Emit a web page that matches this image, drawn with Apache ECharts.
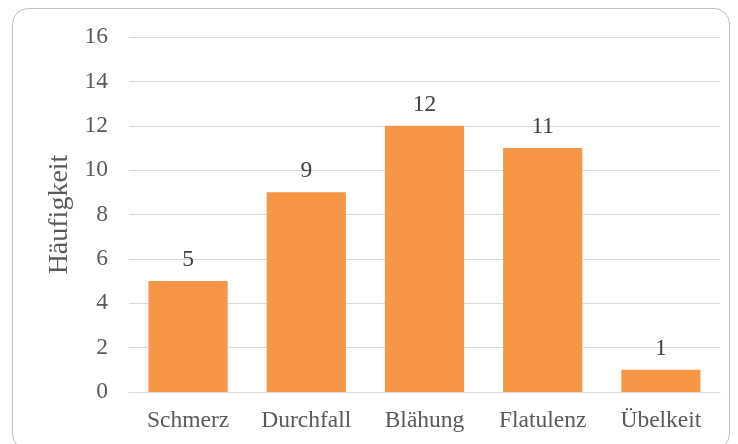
<!DOCTYPE html>
<html>
<head>
<meta charset="utf-8">
<script src="https://cdn.jsdelivr.net/npm/echarts@6/dist/echarts.min.js"></script>
<style>
  html, body { margin: 0; padding: 0; background: #fff; }
  #frame {
    position: absolute; left: 12px; top: 8px; width: 718px; height: 442px;
    border: 1px solid #bfbfbf; border-radius: 16px; box-sizing: border-box;
  }
  #chart { position: absolute; left: 0; top: 0; width: 738px; height: 444px; }
</style>
</head>
<body>
<div id="frame"></div>
<div id="chart"></div>
<script>
var categories = ['Schmerz', 'Durchfall', 'Blähung', 'Flatulenz', 'Übelkeit']
var counts = [5, 9, 12, 11, 1]
var yTicks = [0, 2, 4, 6, 8, 10, 12, 14, 16]

var serif = '"Liberation Serif", "Times New Roman", serif'
var chart = echarts.init(document.getElementById('chart'))
var option = {
    animation: false,
    textStyle: { fontFamily: serif },
    grid: { left: 129, right: 18, top: 37, bottom: 52 },
    xAxis: {
        type: 'category',
        data: categories,
        axisTick: { show: false },
        axisLine: { lineStyle: { color: '#d9d9d9', width: 1 } },
        axisLabel: { color: '#595959', fontSize: 23.5, fontFamily: serif, margin: 17 }
    },
    yAxis: {
        type: 'value',
        min: yTicks[0],
        max: yTicks[yTicks.length - 1],
        interval: 2,
        name: 'Häufigkeit',
        nameLocation: 'middle',
        nameGap: 47,
        nameTextStyle: { color: '#595959', fontSize: 28, fontFamily: serif, padding: [0, 0, 0, 0] },
        axisLine: { show: false },
        axisTick: { show: false },
        axisLabel: { color: '#595959', fontSize: 23.5, fontFamily: serif, margin: 21 },
        splitLine: { lineStyle: { color: '#d9d9d9', width: 1 } }
    },
    series: [
        {
            type: 'bar',
            data: counts,
            barWidth: '67%',
            itemStyle: { color: '#f79646' },
            label: {
                show: true,
                position: 'top',
                distance: 9,
                color: '#404040',
                fontSize: 23.5,
                fontFamily: serif
            }
        }
    ]
}
chart.setOption(option)
</script>
</body>
</html>
